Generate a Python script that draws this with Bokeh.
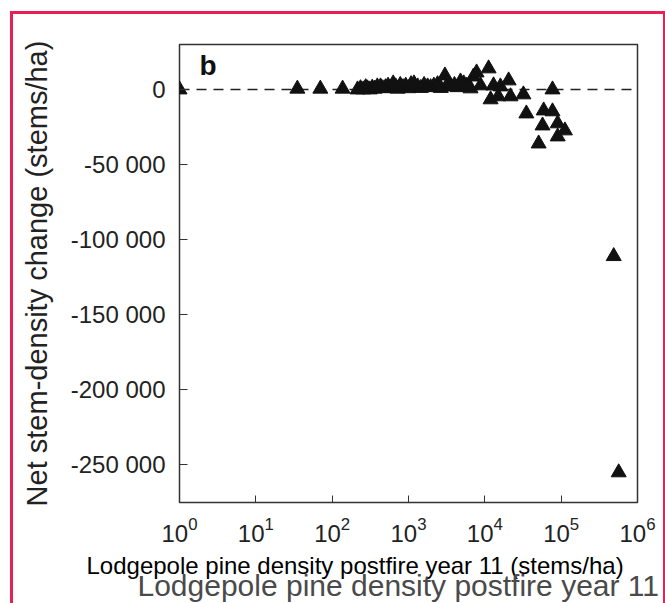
from bokeh.plotting import figure
from bokeh.models import ColumnDataSource, Span, Label, FixedTicker, CustomJSTickFormatter, Title
from bokeh.embed import file_html
from bokeh.resources import INLINE

# --- data ---
density = [1, 35, 70, 137,
           215, 235, 255, 275, 290, 310, 335, 360, 390, 430,
           460, 500, 540, 580, 630, 680, 720, 780, 850, 920,
           1000, 1080, 1180, 1320, 1450, 1600, 1780, 1950, 2150, 2400,
           2650, 3000, 3300, 3600, 4000, 4400, 4800, 5300, 5800, 6500,
           7100, 7800, 8800,
           11200, 13000, 11900, 15000, 16000, 20500, 21700, 32000, 77000,
           35000, 59000, 77000, 57000, 90000, 112000, 90000, 50700,
           488000, 567000]
change = [0, 500, 500, 500,
          0, 800, 0, 1500, 700, 0, 1200, 500, 2000, 2000,
          800, 1500, 2500, 1000, 4000, 2000, 500, 3000, 1500, 2500,
          800, 3500, 4000, 2000, 1000, 3000, 2000, 1500, 2500, 3500,
          1000, 9300, 4000, 2000, 3000, 1500, 5300, 4000, 2500, 700,
          8600, 11300, 2700,
          14000, 2700, -6600, -4600, 2000, 6000, -4600, -3300, 0,
          -16000, -14000, -14600, -24000, -22600, -27300, -31300, -36000,
          -111000, -255000]

y_ticks = [0, -50000, -100000, -150000, -200000, -250000]
x_ticks = [1, 10, 100, 1000, 10000, 100000, 1000000]
x_label = "Lodgepole pine density postfire year 11 (stems/ha)"
x_label_big = "Lodgepole pine density postfire year 11"
y_label = "Net stem-density change (stems/ha)"
panel_letter = "b"

FONT = "Liberation Sans"
PINK = "#e91e55"

p = figure(width=665, height=603, x_axis_type="log",
           x_range=(1, 1e6), y_range=(-275000, 30000),
           output_backend="svg", toolbar_location=None,
           min_border_left=179, min_border_right=28,
           min_border_top=44, min_border_bottom=101)

p.styles = {"box-shadow": f"inset 10px 11px 0 0 #ffffff, inset 13px 14px 0 0 {PINK}, inset -2px 0 0 0 {PINK}"}
p.border_fill_alpha = 0
p.background_fill_color = "white"
p.grid.visible = False
p.outline_line_color = "#333333"
p.outline_line_width = 1.5

src = ColumnDataSource(dict(x=density, y=change))
p.scatter("x", "y", source=src, marker="triangle", size=15,
          fill_color="#111111", line_color="#111111")

zero = Span(location=0, dimension="width", line_color="#222222",
            line_width=1.5, line_dash="10 7", level="underlay")
p.add_layout(zero)

# x axis
xa = p.xaxis[0]
xa.ticker = FixedTicker(ticks=x_ticks)
xa.axis_line_color = None
xa.major_tick_in = 7
xa.major_tick_out = 0
xa.minor_tick_line_color = None
xa.major_tick_line_color = "#333333"
xa.major_label_text_font = FONT
xa.major_label_text_font_size = "24px"
xa.major_label_text_color = "#222222"
xa.major_label_standoff = 14

# y axis
ya = p.yaxis[0]
ya.ticker = FixedTicker(ticks=y_ticks)
ya.formatter = CustomJSTickFormatter(
    code="return String(tick).replace(/\\B(?=(\\d{3})+(?!\\d))/g, ' ');")
ya.axis_line_color = None
ya.major_tick_in = 8
ya.major_tick_out = 0
ya.minor_tick_line_color = None
ya.major_tick_line_color = "#333333"
ya.major_label_text_font = FONT
ya.major_label_text_font_size = "24px"
ya.major_label_text_color = "#222222"
ya.major_label_standoff = 14
ya.axis_label = y_label
ya.axis_label_text_font = FONT
ya.axis_label_text_font_size = "29px"
ya.axis_label_text_font_style = "normal"
ya.axis_label_text_color = "#222222"
ya.axis_label_standoff = 15

# x-axis titles: small overlay title and the large grey one beneath
t_small = Title(text=x_label, align="left", offset=-93, standoff=10,
                text_font=FONT, text_font_size="24px",
                text_font_style="normal", text_color="#000000")
t_big = Title(text=x_label_big, align="left", offset=-42, standoff=-34,
              text_font=FONT, text_font_size="30px",
              text_font_style="normal", text_color="#4a4a4a")
p.add_layout(t_small, "below")
p.add_layout(t_big, "below")

# panel letter
p.add_layout(Label(x=20, y=437, x_units="screen", y_units="screen",
                   text=panel_letter, text_font=FONT, text_font_size="28px",
                   text_font_style="bold", text_color="#111111",
                   text_align="left", text_baseline="alphabetic"))

open("out.html", "w").write(file_html(p, INLINE))
